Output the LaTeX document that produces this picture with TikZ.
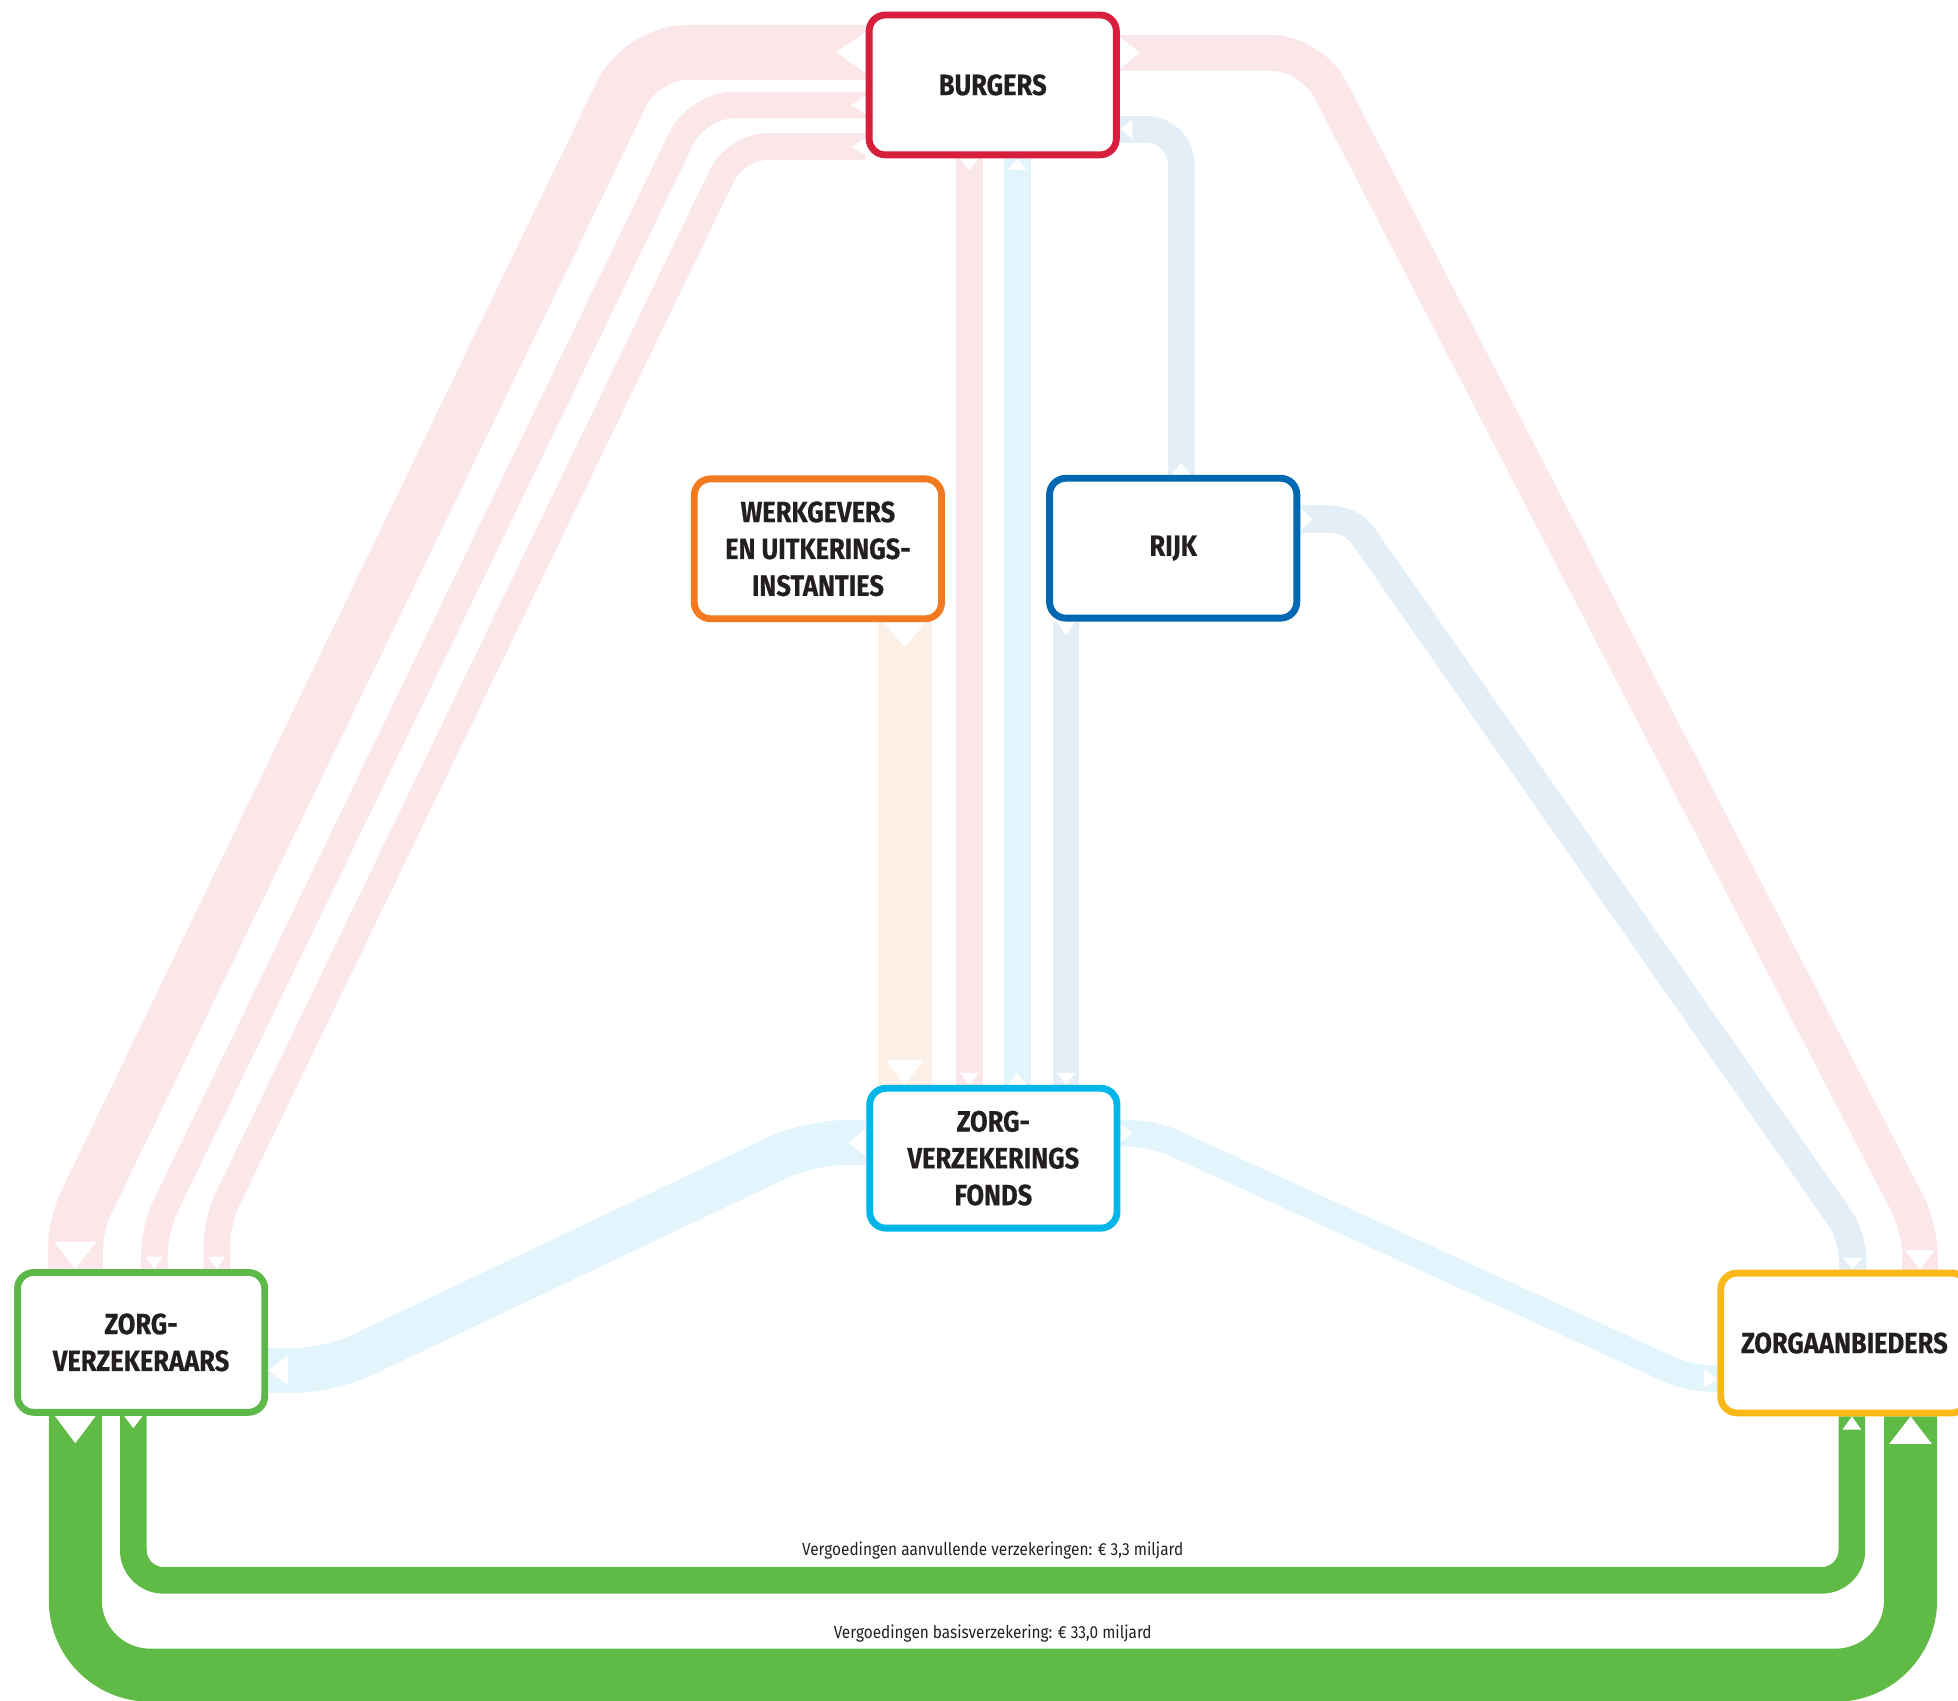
\documentclass[tikz,border=0pt]{standalone}
\usepackage{fontspec}
\newfontfamily\boxfont[FakeStretch=0.87,FakeBold=0.4]{Fira Sans}
\newfontfamily\lblfont[FakeStretch=0.88]{Fira Sans}
\definecolor{cred}{HTML}{D81E3D}
\definecolor{corange}{HTML}{F37A21}
\definecolor{cblue}{HTML}{0068B3}
\definecolor{ccyan}{HTML}{00B5E8}
\definecolor{cgreen}{HTML}{5CB848}
\definecolor{cyellow}{HTML}{FAB818}
\definecolor{gband}{HTML}{60BA46}
\definecolor{pband}{HTML}{FBE6E9}
\definecolor{lbband}{HTML}{E3EEF6}
\definecolor{cband}{HTML}{E2F4FC}
\definecolor{oband}{HTML}{FDF0E6}
\definecolor{ctext}{HTML}{231F20}
\newcommand\srcarr[4]{\fill[white,shift={#1},rotate=#2] (0,0.5*#4) -- (#3,0) -- (0,-0.5*#4) -- cycle;}
\newcommand\dstarr[4]{\fill[white,shift={#1},rotate=#2] (0,0) -- (-#3,0.5*#4) -- (-#3,-0.5*#4) -- cycle;}
\begin{document}
\begin{tikzpicture}[x=1pt,y=-1pt,
  flowband/.style={line cap=butt, line join=round},
  box/.style={draw, fill=white, line width=5.5pt, rounded corners=13pt,
    minimum width=198pt, minimum height=112pt, inner sep=0pt, align=center,
    text=ctext, font=\boxfont\bfseries\fontsize{23.5}{29.5}\selectfont},
  lbl/.style={anchor=base, text=ctext, inner sep=0pt, font=\lblfont\fontsize{14}{16}\selectfont}]
\useasboundingbox (0,0) rectangle (1568,1362);

% node positions (boxes drawn on top at the end)
\path (795,68) node[box, draw=none, fill=none, text opacity=0] (burgers) {BURGERS};
\path (655,439.5) node[box, draw=none, fill=none, text opacity=0] (wg) {WERKGEVERS\\EN UITKERINGS-\\INSTANTIES};
\path (939.5,439) node[box, draw=none, fill=none, text opacity=0] (rijk) {RIJK};
\path (795.5,927.5) node[box, draw=none, fill=none, text opacity=0] (zvf) {ZORG-\\VERZEKERINGS\\FONDS};
\path (113,1075) node[box, draw=none, fill=none, text opacity=0] (zvk) {ZORG-\\VERZEKERAARS};
\path (1477,1075.5) node[box, draw=none, fill=none, text opacity=0] (za) {ZORGAANBIEDERS};

% ---- bands ----
\draw[flowband, pband, line width=44pt] (burgers.west |- 0,42) [rounded corners=36pt] -- (513.8,42) [rounded corners=20pt] -- (60.3,981) -- (zvk.north -| 60.3,0);
\draw[flowband, pband, line width=21.4pt] (burgers.west |- 0,84) [rounded corners=29.5pt] -- (558.5,84) [rounded corners=20pt] -- (123.5,984.7) -- (zvk.north -| 123.5,0);
\draw[flowband, pband, line width=21.4pt] (burgers.west |- 0,117.4) [rounded corners=25pt] -- (589.3,117.4) [rounded corners=20pt] -- (173.5,978.3) -- (zvk.north -| 173.5,0);
\draw[flowband, pband, line width=28.6pt] (burgers.east |- 0,42.3) [rounded corners=32pt] -- (1050.1,42.3) [rounded corners=22pt] -- (1537.5,983.2) -- (za.north -| 1537.5,0);
\draw[flowband, pband, line width=21.4pt] (burgers.south -| 776.3,0) -- (zvf.north -| 776.3,0);
\draw[flowband, cband, line width=21.4pt] (zvf.north -| 814.7,0) -- (burgers.south -| 814.7,0);
\draw[flowband, lbband, line width=21.4pt] (rijk.south -| 853.7,0) -- (zvf.north -| 853.7,0);
\draw[flowband, oband, line width=43pt] (wg.south -| 724.5,0) -- (zvf.north -| 724.5,0);
\draw[flowband, lbband, line width=21.4pt, rounded corners=28pt] (rijk.north -| 945.9,0) -- (945.9,103.6) -- (burgers.east |- 0,103.6);
\draw[flowband, lbband, line width=22pt] (rijk.east |- 0,415.8) [rounded corners=16pt] -- (1082.3,415.8) [rounded corners=18pt] -- (1483.6,989.9) -- (za.north -| 1483.6,0);
\draw[flowband, cband, line width=36pt, rounded corners=28pt] (zvf.west |- 0,915) -- (648,915) -- (263.8,1097.5) -- (zvk.east |- 0,1097.5);
\draw[flowband, cband, line width=21.4pt, rounded corners=18pt] (zvf.east |- 0,907.6) -- (923.2,907.6) -- (1353,1104) -- (za.west |- 0,1104);
\draw[flowband, gband, line width=42.5pt, rounded corners=60pt] (zvk.south -| 60.3,0) -- (60.3,1341.5) -- (1530,1341.5) -- (za.south -| 1530,0);
\draw[flowband, gband, line width=21.4pt, rounded corners=24pt] (zvk.south -| 106.8,0) -- (106.8,1265.5) -- (1483,1265.5) -- (za.south -| 1483,0);

% ---- arrow notches ----
\srcarr{(burgers.west |- 0,42)}{180}{23.5}{33}
\srcarr{(burgers.west |- 0,84)}{180}{11.5}{14.7}
\srcarr{(burgers.west |- 0,117.4)}{180}{11.5}{14.7}
\dstarr{(zvk.north -| 60.3,0)}{270}{22}{34}
\dstarr{(zvk.north -| 123.5,0)}{270}{10}{14}
\dstarr{(zvk.north -| 173.5,0)}{270}{10}{14}
\srcarr{(burgers.east |- 0,42.3)}{0}{16}{25}
\dstarr{(za.north -| 1537.5,0)}{270}{15.5}{23.5}
\srcarr{(burgers.south -| 776.3,0)}{270}{10}{15}
\dstarr{(zvf.north -| 776.3,0)}{270}{9.5}{15}
\srcarr{(zvf.north -| 814.7,0)}{90}{9.5}{15}
\dstarr{(burgers.south -| 814.7,0)}{90}{9.5}{15}
\srcarr{(rijk.south -| 853.7,0)}{270}{11}{15}
\dstarr{(zvf.north -| 853.7,0)}{270}{9.5}{15}
\srcarr{(wg.south -| 724.5,0)}{270}{20}{33.6}
\dstarr{(zvf.north -| 724.5,0)}{270}{20}{30.4}
\srcarr{(rijk.north -| 945.9,0)}{90}{9.5}{15}
\dstarr{(burgers.east |- 0,103.6)}{180}{10}{15}
\srcarr{(rijk.east |- 0,415.8)}{0}{9.5}{19}
\dstarr{(za.north -| 1483.6,0)}{270}{9.5}{15}
\srcarr{(zvf.west |- 0,915)}{180}{14.5}{23}
\dstarr{(zvk.east |- 0,1097.5)}{180}{16}{24}
\srcarr{(zvf.east |- 0,907.6)}{0}{9.6}{14.5}
\dstarr{(za.west |- 0,1104)}{0}{10.6}{14.7}
\srcarr{(zvk.south -| 60.3,0)}{270}{22}{33}
\dstarr{(za.south -| 1530,0)}{90}{22}{34}
\srcarr{(zvk.south -| 106.8,0)}{270}{10}{15}
\dstarr{(za.south -| 1483,0)}{90}{10.6}{15}

% ---- boxes ----
\node[box, draw=cred] at (burgers) {BURGERS};
\node[box, draw=corange] at (wg) {WERKGEVERS\\EN UITKERINGS-\\INSTANTIES};
\node[box, draw=cblue] at (rijk) {RIJK};
\node[box, draw=ccyan] at (zvf) {ZORG-\\VERZEKERINGS\\FONDS};
\node[box, draw=cgreen] at (zvk) {ZORG-\\VERZEKERAARS};
\node[box, draw=cyellow] at (za) {ZORGAANBIEDERS};

% ---- labels ----
\node[lbl] (l1) at (795,1246) {Vergoedingen aanvullende verzekeringen: € 3,3 miljard};
\node[lbl] (l2) at (795,1312) {Vergoedingen basisverzekering: € 33,0 miljard};
\end{tikzpicture}
\end{document}
